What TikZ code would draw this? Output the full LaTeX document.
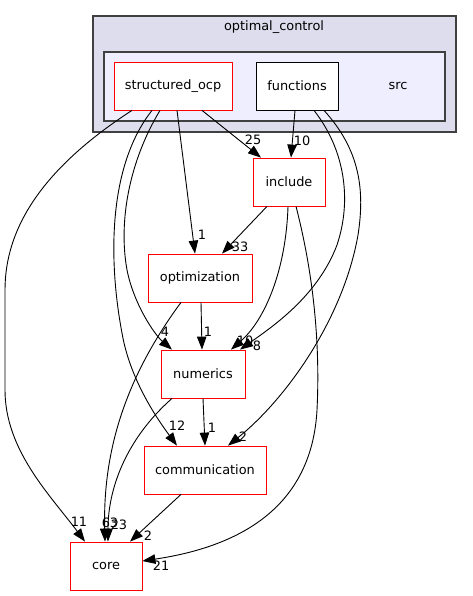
\documentclass[tikz,border=0pt]{standalone}
\usepackage{fontspec}
\setmainfont{DejaVu Sans}
\usetikzlibrary{arrows.meta}
\definecolor{clouter}{HTML}{DDDDEE}
\definecolor{clinner}{HTML}{EEEEFF}
\definecolor{clborder}{HTML}{404040}
\tikzset{
  dirbox/.style={draw=red, fill=white, line width=0.8pt, minimum height=48pt, inner sep=0pt, font=\fontsize{12.9}{14}\selectfont},
  plainbox/.style={dirbox, draw=black},
  dep/.style={draw=black, line width=0.9pt, -{Triangle[length=13pt,width=9.5pt]}},
  elabel/.style={font=\fontsize{12.9}{14}\selectfont, inner sep=0pt},
  cluster/.style={draw=clborder, line width=1.3pt},
}
\begin{document}
\begin{tikzpicture}[x=1pt,y=-1pt]
\useasboundingbox (0,0) rectangle (472,596);
% clusters
\node[cluster, fill=clouter, minimum width=363pt, minimum height=116pt, inner sep=0pt] (oc) at (274.5,74) {};
\node[elabel] (oclabel) at (274,27) {optimal\_control};
\node[cluster, fill=clinner, minimum width=341pt, minimum height=69pt, inner sep=0pt] (src) at (274.5,86.5) {};
\node[elabel] (srclabel) at (398,86) {src};
% nodes
\node[dirbox, minimum width=118pt] (so) at (173,86) {structured\_ocp};
\node[plainbox, minimum width=82pt] (fn) at (297,86) {functions};
\node[dirbox, minimum width=72pt] (inc) at (289,182) {include};
\node[dirbox, minimum width=104pt] (opt) at (200,278) {optimization};
\node[dirbox, minimum width=84pt] (num) at (203,374) {numerics};
\node[dirbox, minimum width=122pt] (comm) at (205,470) {communication};
\node[dirbox, minimum width=72pt] (core) at (106,566) {core};
% edges
\draw[dep] ([xshift=-41pt]so.south) .. controls (40,170) and (5,230) .. (5,290) -- (5,390) .. controls (5,450) and (50,495) .. ([xshift=-21pt]core.north);
\draw[dep] ([xshift=-13pt]so.south) .. controls (130,160) and (118,220) .. (127,270) .. controls (134,305) and (155,335) .. ([xshift=-31pt]num.north);
\draw[dep] ([xshift=-21pt]so.south) .. controls (105,170) and (110,270) .. (122,333) .. controls (130,380) and (158,420) .. ([xshift=-28pt]comm.north);
\draw[dep] ([xshift=4pt]so.south) -- ([xshift=-5pt]opt.north);
\draw[dep] ([xshift=29pt]so.south) -- ([xshift=-28pt]inc.north);
\draw[dep] ([xshift=-2pt]fn.south) -- ([xshift=2pt]inc.north);
\draw[dep] ([xshift=17pt]fn.south) .. controls (345,150) and (352,200) .. (337,245) .. controls (318,295) and (275,325) .. ([xshift=37pt]num.north);
\draw[dep] ([xshift=27pt]fn.south) .. controls (360,150) and (365,190) .. (358,235) .. controls (343,320) and (285,400) .. ([xshift=23pt]comm.north);
\draw[dep] ([xshift=-22pt]inc.south) -- ([xshift=22pt]opt.north);
\draw[dep] ([xshift=-1pt]inc.south) .. controls (286,270) and (265,320) .. ([xshift=28pt]num.north);
\draw[dep] ([xshift=7pt]inc.south) .. controls (315,280) and (320,350) .. (317,410) .. controls (312,500) and (250,545) .. ([yshift=5pt]core.east);
\draw[dep] ([xshift=1pt]opt.south) -- ([xshift=-1pt]num.north);
\draw[dep] ([xshift=-19pt]opt.south) .. controls (120,385) and (103,460) .. ([xshift=-1pt]core.north);
\draw[dep] (num.south) -- (comm.north);
\draw[dep] ([xshift=-31pt]num.south) .. controls (125,440) and (108,490) .. ([xshift=2pt]core.north);
\draw[dep] ([xshift=-24pt]comm.south) -- ([xshift=24pt]core.north);
% edge labels
\node[elabel] (l25) at (253,140) {25};
\node[elabel] (l10a) at (302,141) {10};
\node[elabel] (l1a) at (202,235) {1};
\node[elabel] (l33) at (240,247) {33};
\node[elabel] (l4) at (165,332) {4};
\node[elabel] (l1b) at (208,332) {1};
\node[elabel] (l10b) at (245,341) {10};
\node[elabel] (l8) at (257,346) {8};
\node[elabel] (l12) at (177,426) {12};
\node[elabel] (l1c) at (212,428) {1};
\node[elabel] (l2a) at (243,437) {2};
\node[elabel] (l11) at (79,522) {11};
\node[elabel] (l63) at (110,523) {63};
\node[elabel] (l23) at (119,525) {23};
\node[elabel] (l2b) at (148,536) {2};
\node[elabel] (l21) at (161,566) {21};
\end{tikzpicture}
\end{document}
